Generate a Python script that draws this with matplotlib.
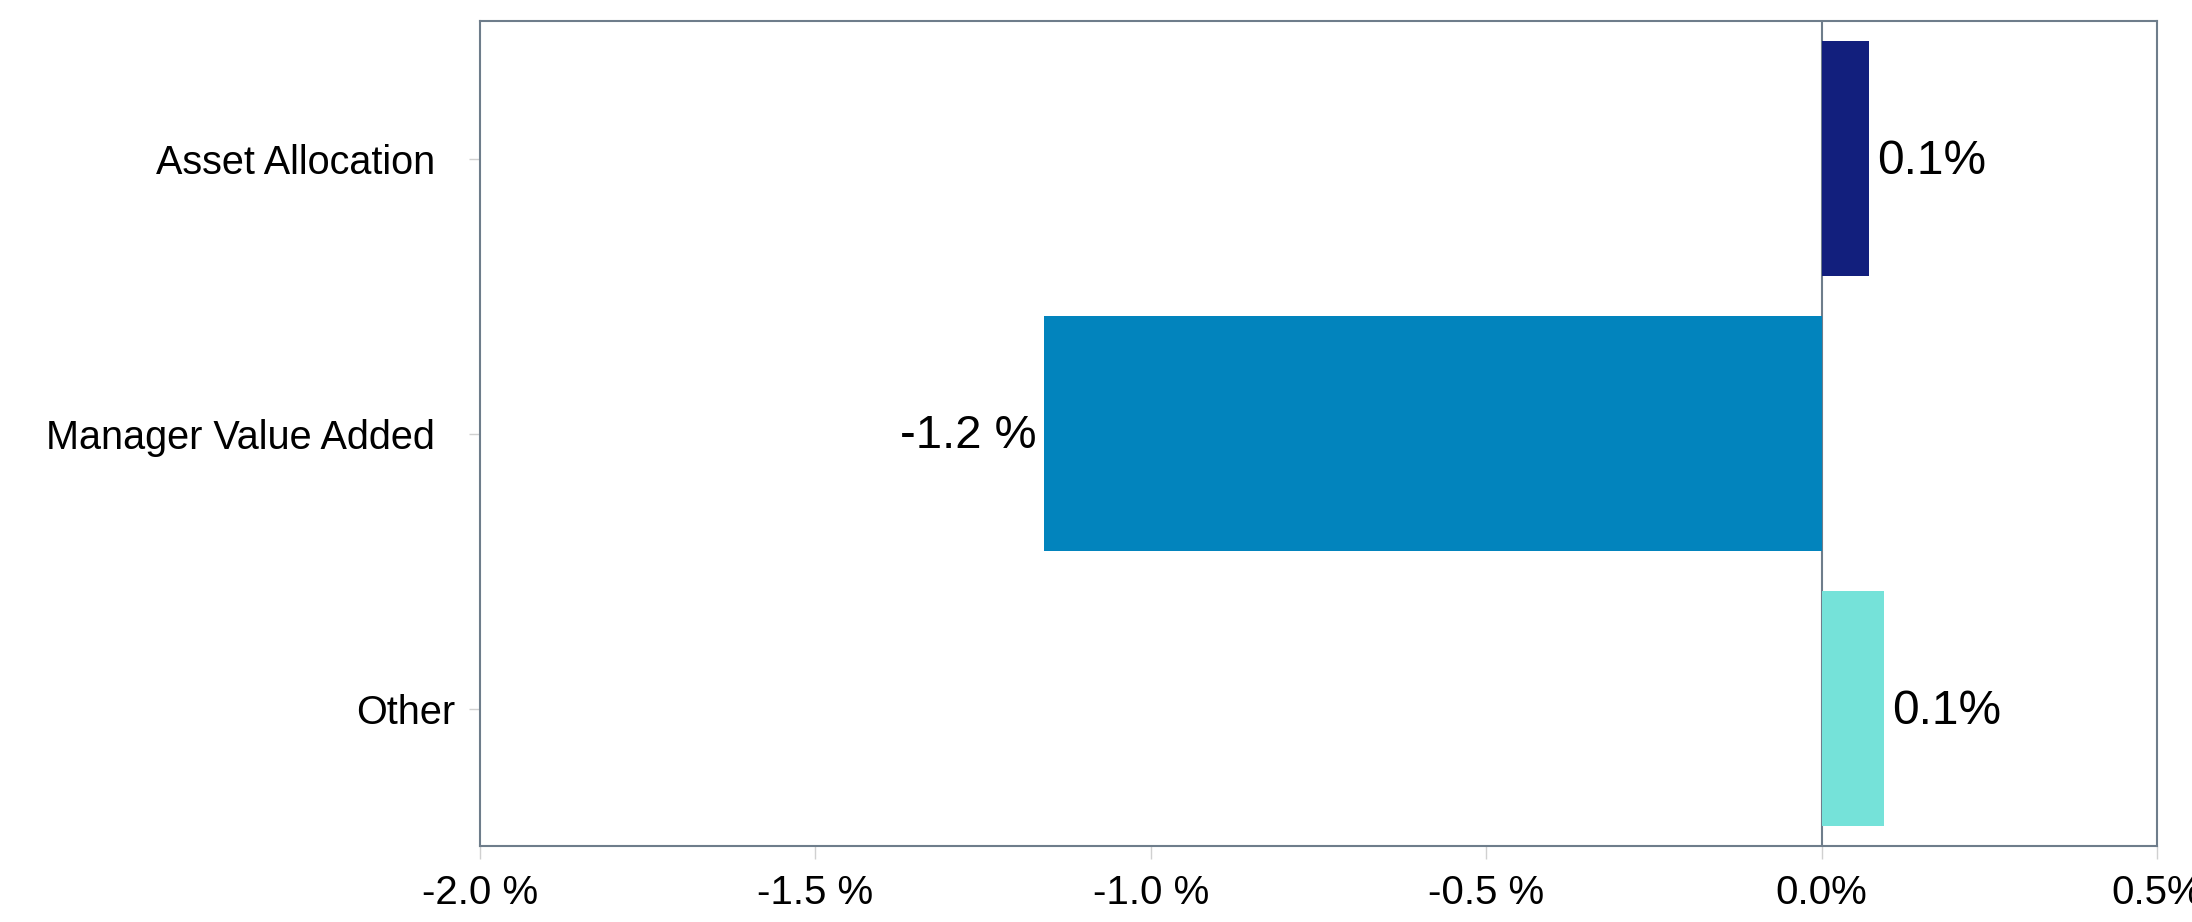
import matplotlib.pyplot as plt

categories = ["Asset Allocation", "Manager Value Added", "Other"]
values = [0.071, -1.159, 0.093]
value_labels = ["0.1%", "-1.2 %", "0.1%"]
bar_colors = ["#121F7D", "#0284BD", "#75E2D9"]
xticks = [-2.0, -1.5, -1.0, -0.5, 0.0, 0.5]
xtick_labels = ["-2.0 %", "-1.5 %", "-1.0 %", "-0.5 %", "0.0%", "0.5%"]

spine_col = "#6E7D8B"
plt.rcParams["font.family"] = ["Liberation Sans", "DejaVu Sans"]

fig = plt.figure(figsize=(21.92, 9.22), dpi=100)
ax = fig.add_axes([480 / 2192, 1 - 846 / 922, (2157 - 480) / 2192, (846 - 21) / 922])

ypos = list(range(len(categories)))
ax.barh(ypos, values, height=0.855, color=bar_colors, zorder=2)
ax.axvline(0, color=spine_col, lw=1.5, zorder=1)

# value labels sit just outside the end of each bar
for y, v, lab in zip(ypos, values, value_labels):
    if v >= 0:
        ax.text(v + 0.012, y + 0.01, lab, va="center", ha="left", fontsize=34.5, color="black")
    else:
        ax.text(v - 0.012, y + 0.01, lab, va="center", ha="right", fontsize=34, color="black")

ax.set_xlim(-2.0, 0.5)
ax.set_ylim(2.5, -0.5)

ax.set_yticks(ypos)
ax.set_yticklabels([c + "\u2002" if c != "Other" else c for c in categories], fontsize=28.5)
ax.set_xticks(xticks)
ax.set_xticklabels(xtick_labels, fontsize=29)

ax.tick_params(axis="y", length=8, width=1, color="#D0D0D0", pad=10)
ax.tick_params(axis="x", length=9, width=1, color="#D0D0D0", pad=11)

for s in ax.spines.values():
    s.set_color(spine_col)
    s.set_linewidth(1.5)

fig.savefig("out.png", dpi=100)
